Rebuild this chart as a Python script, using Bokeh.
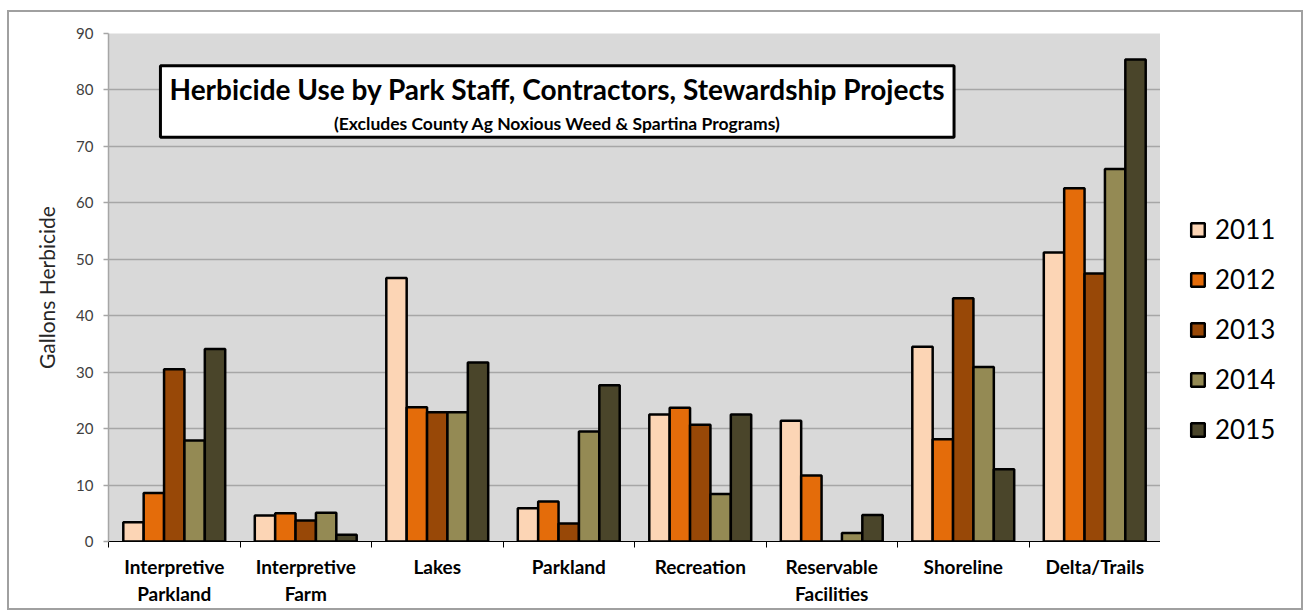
from bokeh.plotting import figure
from bokeh.layouts import row
from bokeh.models import (ColumnDataSource, Range1d, FixedTicker, Legend, LegendItem,
                          BoxAnnotation, Label)
from bokeh.transform import dodge
from bokeh.embed import file_html
from bokeh.resources import INLINE

categories = ["Interpretive\nParkland", "Interpretive\nFarm", "Lakes", "Parkland",
              "Recreation", "Reservable\nFacilities", "Shoreline", "Delta/Trails"]
years = ["2011", "2012", "2013", "2014", "2015"]
v2011 = [3.4, 4.6, 46.7, 5.9, 22.5, 21.4, 34.5, 51.2]
v2012 = [8.6, 5.0, 23.8, 7.1, 23.7, 11.7, 18.1, 62.6]
v2013 = [30.5, 3.7, 22.9, 3.2, 20.7, 0.0, 43.1, 47.5]
v2014 = [17.9, 5.1, 22.9, 19.5, 8.4, 1.5, 30.9, 66.0]
v2015 = [34.1, 1.2, 31.7, 27.7, 22.5, 4.7, 12.8, 85.4]
colors = ["#FCD5B5", "#E46C0A", "#984807", "#948A54", "#4A452A"]
yticks = [0, 10, 20, 30, 40, 50, 60, 70, 80, 90]

centers = [i + 0.5 for i in range(len(categories))]
source = ColumnDataSource(dict(x=centers, y2011=v2011, y2012=v2012, y2013=v2013,
                               y2014=v2014, y2015=v2015))

FONT = "Lato"
H = 596

p = figure(width=1151, height=H, output_backend="svg", toolbar_location=None,
           x_range=Range1d(0, len(categories)), y_range=Range1d(0, 90),
           min_border_left=99, min_border_right=0, min_border_top=21,
           min_border_bottom=66)
p.background_fill_color = "#D9D9D9"
p.border_fill_color = "white"
p.outline_line_color = None

bar_w = 0.155
offsets = [-2 * bar_w, -bar_w, 0, bar_w, 2 * bar_w]
series = ["y2011", "y2012", "y2013", "y2014", "y2015"]
for s, off, c in zip(series, offsets, colors):
    p.vbar(x=dodge("x", off), top=s, width=bar_w, bottom=0, source=source,
           fill_color=c, line_color="black", line_width=2.5)

# axes
p.xgrid.grid_line_color = None
p.ygrid.grid_line_color = "#A6A6A6"
p.ygrid.grid_line_width = 1.5

p.xaxis.ticker = FixedTicker(ticks=centers, minor_ticks=list(range(len(categories) + 1)))
p.xaxis.major_label_overrides = {c: lab for c, lab in zip(centers, categories)}
p.xaxis.major_tick_line_color = None
p.xaxis.minor_tick_line_color = "black"
p.xaxis.minor_tick_out = 6
p.xaxis.minor_tick_in = 0
p.xaxis.axis_line_color = "black"
p.xaxis.axis_line_width = 1.2
p.xaxis.major_label_text_font = FONT
p.xaxis.major_label_text_font_style = "bold"
p.xaxis.major_label_text_font_size = "19px"
p.xaxis.major_label_text_color = "black"
p.xaxis.major_label_standoff = 7

p.yaxis.ticker = FixedTicker(ticks=yticks)
p.yaxis.axis_line_color = "#A6A6A6"
p.yaxis.axis_line_width = 1.5
p.yaxis.major_tick_line_color = "#A6A6A6"
p.yaxis.major_tick_line_width = 1.5
p.yaxis.major_tick_out = 5
p.yaxis.major_tick_in = 0
p.yaxis.minor_tick_line_color = None
p.yaxis.major_label_text_font = FONT
p.yaxis.major_label_text_font_size = "15px"
p.yaxis.major_label_text_color = "#404040"
p.yaxis.major_label_standoff = 10
p.yaxis.axis_label = "Gallons Herbicide"
p.yaxis.axis_label_text_font = FONT
p.yaxis.axis_label_text_font_style = "normal"
p.yaxis.axis_label_text_font_size = "21px"
p.yaxis.axis_label_text_color = "#262626"
p.yaxis.axis_label_standoff = 14

# title box
box = BoxAnnotation(left=0.395, right=6.43, top=84.3, bottom=71.6,
                    fill_color="white", fill_alpha=1.0, line_color="black",
                    line_width=3, line_alpha=1.0)
p.add_layout(box)
p.add_layout(Label(x=3.414, y=80.2, text="Herbicide Use by Park Staff, Contractors, Stewardship Projects",
                   text_font=FONT, text_font_style="bold", text_font_size="28px",
                   text_align="center", text_baseline="middle", text_color="black"))
p.add_layout(Label(x=3.414, y=74.1, text="(Excludes County Ag Noxious Weed & Spartina Programs)",
                   text_font=FONT, text_font_style="bold", text_font_size="17.5px",
                   text_align="center", text_baseline="middle", text_color="black"))

# legend panel (separate figure to the right of the plot area)
lg = figure(width=141, height=H, output_backend="svg", toolbar_location=None,
            x_range=Range1d(100, 101), y_range=Range1d(-300, -200),
            x_axis_type=None, y_axis_type=None,
            min_border_left=0, min_border_right=0, min_border_top=0, min_border_bottom=0)
lg.grid.visible = False
lg.outline_line_color = None
lg.background_fill_color = "white"
lg.border_fill_color = "white"
lrs = []
for s, off, c in zip(series, offsets, colors):
    r = lg.vbar(x=dodge("x", off), top=s, width=bar_w, bottom=0, source=source,
                fill_color=c, line_color="black", line_width=2.5)
    r.visible = False
    lrs.append(r)
legend = Legend(items=[LegendItem(label=y, renderers=[r]) for y, r in zip(years, lrs)],
                location=(29, 96), orientation="vertical")
legend.label_text_font = FONT
legend.label_text_font_size = "26px"
legend.label_text_color = "black"
legend.glyph_width = 17
legend.glyph_height = 17
legend.label_height = 30
legend.spacing = 18
legend.padding = 0
legend.margin = 0
legend.label_standoff = 9
legend.border_line_color = None
legend.background_fill_alpha = 0
legend.inactive_fill_alpha = 0
lg.add_layout(legend)

layout = row(p, lg)
layout.styles = {"border": "2px solid #a0a0a0", "margin-left": "7px", "margin-top": "10px"}

open("out.html", "w").write(file_html(layout, INLINE))
